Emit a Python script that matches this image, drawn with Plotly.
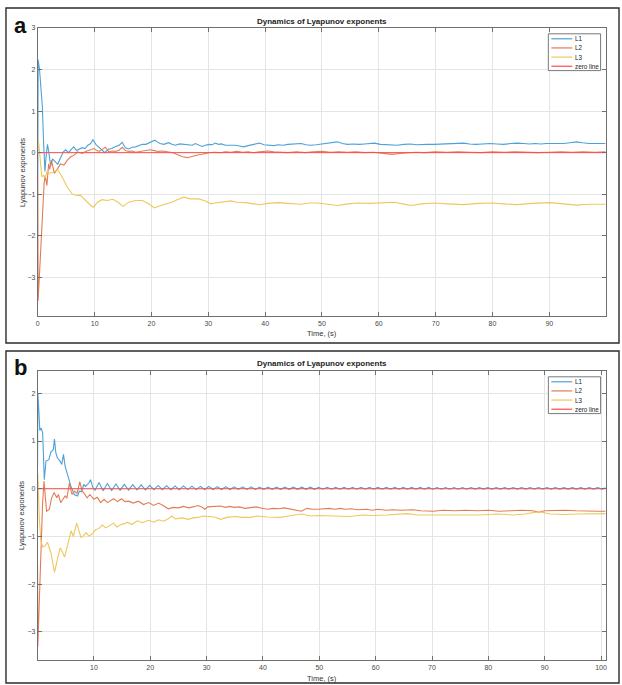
import plotly.graph_objects as go

# ---------------- data: (time [s], exponent) ----------------
# panel (a)
A_L1 = [(0, -0.5), (0.05, 2.24), (0.3, 2.0), (0.6, 1.5), (0.8, 1.1), (1.0, 0.3), (1.25, -0.45),
        (1.45, -0.1), (1.7, 0.2), (1.95, 0.0), (2.25, -0.32), (2.6, -0.15), (3.0, -0.22),
        (3.5, -0.28), (4.0, -0.12), (4.5, 0.02), (4.9, 0.07), (5.4, 0.0), (5.9, 0.08),
        (6.3, 0.14), (6.8, 0.05), (7.3, 0.08), (7.8, 0.12), (8.3, 0.1), (8.8, 0.18), (9.3, 0.22),
        (9.7, 0.31), (10.2, 0.2), (10.6, 0.15), (11.2, 0.06), (11.8, 0.0), (12.4, 0.08),
        (13.0, 0.1), (13.6, 0.14), (14.3, 0.18), (14.85, 0.25), (15.4, 0.12), (16.0, 0.09),
        (16.6, 0.13), (17.2, 0.14), (17.8, 0.17), (18.4, 0.2), (19.0, 0.2), (19.5, 0.23),
        (20.1, 0.27), (20.6, 0.3), (21.0, 0.26), (21.5, 0.22), (22.2, 0.2), (23.0, 0.24),
        (23.6, 0.2), (24.2, 0.18), (25.0, 0.21), (25.6, 0.2), (26.5, 0.2), (27.2, 0.18),
        (27.7, 0.22), (28.5, 0.17), (28.9, 0.15), (29.5, 0.18), (30.1, 0.2), (30.7, 0.19),
        (31.2, 0.23), (31.8, 0.2), (32.3, 0.21), (33.0, 0.18), (34.0, 0.19), (34.7, 0.18),
        (35.5, 0.16), (36.2, 0.14), (37.0, 0.17), (38.0, 0.2), (39.0, 0.23), (39.8, 0.19),
        (40.6, 0.18), (41.5, 0.17), (42.3, 0.19), (43.2, 0.18), (44.0, 0.2), (45.0, 0.21),
        (46.3, 0.22), (47.2, 0.19), (48.0, 0.18), (49.0, 0.19), (50.0, 0.21), (51.0, 0.23),
        (51.8, 0.24), (52.7, 0.26), (53.6, 0.22), (54.5, 0.2), (55.5, 0.21), (56.5, 0.2),
        (57.5, 0.21), (58.5, 0.22), (59.2, 0.23), (60.3, 0.2), (61.5, 0.19), (62.4, 0.2),
        (63.3, 0.18), (64.4, 0.2), (65.6, 0.21), (66.6, 0.19), (67.5, 0.2), (68.6, 0.2),
        (69.7, 0.2), (71.0, 0.21), (72.5, 0.21), (73.8, 0.22), (74.9, 0.23), (76.0, 0.21),
        (77.0, 0.2), (78.3, 0.21), (79.5, 0.22), (80.8, 0.21), (82.0, 0.2), (83.2, 0.22),
        (84.3, 0.23), (85.5, 0.22), (86.5, 0.21), (87.5, 0.22), (88.5, 0.21), (89.5, 0.22),
        (90.5, 0.22), (91.5, 0.21), (92.5, 0.22), (93.6, 0.24), (94.8, 0.26), (95.8, 0.24),
        (97.0, 0.22), (98.2, 0.22), (99.9, 0.22)]

A_L2 = [(0, -0.5), (0.05, -3.56), (0.3, -2.9), (0.6, -2.0), (0.85, -1.3), (1.1, -0.75),
        (1.3, -0.55), (1.6, -0.79), (1.9, -0.27), (2.1, -0.4), (2.4, -0.18), (2.9, -0.5),
        (3.45, -0.39), (4.0, -0.27), (4.6, -0.3), (5.2, -0.18), (5.8, -0.1), (6.4, -0.06),
        (7.0, 0.02), (7.8, -0.02), (8.4, 0.03), (9.0, 0.06), (9.9, 0.1), (10.4, 0.05),
        (10.8, 0.03), (11.3, 0.08), (11.9, 0.13), (12.5, 0.02), (13.1, 0.04), (13.7, 0.03),
        (14.3, 0.06), (14.85, 0.13), (15.4, 0.05), (16.0, 0.03), (16.6, 0.04), (17.2, 0.01),
        (17.9, 0.03), (18.6, 0.04), (19.2, 0.06), (19.8, 0.07), (20.5, 0.05), (21.2, 0.03),
        (22.0, 0.04), (23.0, 0.02), (23.8, 0.0), (24.8, -0.06), (25.5, -0.1), (26.3, -0.12),
        (27.0, -0.09), (27.6, -0.08), (28.3, -0.05), (28.9, -0.04), (29.5, -0.02), (30.1, 0.0),
        (31.0, 0.01), (32.0, 0.0), (33.0, 0.02), (34.0, 0.01), (35.0, 0.03), (36.0, 0.01),
        (37.0, 0.02), (38.0, 0.0), (39.0, 0.02), (40.5, 0.04), (41.5, 0.02), (42.5, 0.01),
        (44.0, 0.0), (45.5, 0.02), (47.0, 0.0), (48.5, 0.02), (50.0, 0.03), (51.5, 0.01),
        (53.0, 0.02), (54.5, 0.01), (56.0, 0.02), (57.5, 0.0), (59.0, 0.01), (60.5, -0.01),
        (61.5, -0.03), (62.4, -0.04), (63.5, -0.02), (65.0, 0.0), (66.5, 0.01), (68.0, 0.0),
        (70.0, 0.02), (72.0, 0.01), (74.0, 0.02), (76.0, 0.01), (78.0, 0.0), (80.0, 0.02),
        (82.0, 0.01), (84.0, 0.02), (86.0, 0.01), (88.0, 0.0), (90.0, 0.01), (92.0, 0.02),
        (94.0, 0.01), (96.0, 0.02), (98.0, 0.01), (99.9, 0.02)]

A_L3 = [(0, 0.31), (0.1, 0.3), (0.35, -0.05), (0.7, -0.58), (1.0, -0.55), (1.3, -0.59),
        (1.6, -0.46), (2.0, -0.5), (2.6, -0.47), (3.2, -0.43), (3.5, -0.41), (4.3, -0.59),
        (5.2, -0.83), (6.1, -1.0), (7.0, -1.03), (7.5, -1.02), (8.4, -1.15), (9.3, -1.27),
        (9.8, -1.31), (10.5, -1.19), (11.3, -1.13), (12.2, -1.15), (13.2, -1.12), (14.0, -1.18),
        (15.0, -1.29), (16.0, -1.19), (17.2, -1.15), (18.4, -1.15), (19.5, -1.23), (20.5, -1.33),
        (21.6, -1.27), (22.7, -1.23), (23.6, -1.19), (24.5, -1.13), (25.7, -1.07), (26.8, -1.11),
        (28.3, -1.11), (29.5, -1.16), (30.4, -1.23), (31.2, -1.21), (32.5, -1.18), (34.0, -1.16),
        (35.0, -1.19), (36.5, -1.2), (38.0, -1.23), (39.0, -1.25), (40.5, -1.22), (42.2, -1.2),
        (44.0, -1.22), (46.3, -1.24), (47.8, -1.21), (49.2, -1.21), (51.0, -1.24), (52.7, -1.27),
        (54.5, -1.23), (56.3, -1.21), (58.5, -1.22), (60.5, -1.2), (62.7, -1.19), (64.2, -1.23),
        (65.6, -1.27), (67.5, -1.23), (69.7, -1.21), (72.0, -1.23), (74.9, -1.25), (77.5, -1.22),
        (80.0, -1.21), (82.0, -1.23), (84.3, -1.25), (87.0, -1.22), (90.2, -1.2), (92.5, -1.23),
        (94.8, -1.26), (97.0, -1.24), (99.9, -1.24)]

# panel (b)
B_L1 = [(0, 0.47), (0.05, 2.0), (0.25, 1.6), (0.4, 1.22), (0.65, 1.27), (0.9, 1.17), (1.05, 0.7),
        (1.2, 0.19), (1.5, 0.58), (2.0, 0.61), (2.4, 0.78), (2.8, 0.82), (3.0, 1.04), (3.25, 0.75),
        (3.5, 0.65), (4.0, 0.58), (4.3, 0.51), (4.6, 0.72), (4.9, 0.47), (5.3, 0.3), (5.9, 0.06),
        (6.5, -0.12), (7.1, -0.15), (7.4, -0.05), (7.8, -0.06), (8.2, 0.09), (8.5, 0.05),
        (9.1, 0.12), (9.4, 0.19), (9.8, 0.03), (10.2, -0.03),
        (10.9, 0.13), (11.65, -0.04), (12.4, 0.11), (13.15, -0.035), (13.9, 0.1), (14.65, -0.03),
        (15.4, 0.09), (16.15, -0.03), (16.9, 0.085), (17.65, -0.025), (18.4, 0.08), (19.15, -0.025),
        (19.9, 0.07), (20.65, -0.02), (21.4, 0.07), (22.15, -0.02), (22.9, 0.065), (23.65, -0.02),
        (24.4, 0.06), (25.15, -0.02), (25.9, 0.06), (26.65, -0.018), (27.4, 0.055), (28.15, -0.018),
        (28.9, 0.05), (29.65, -0.016), (30.4, 0.05), (31.15, -0.016), (31.9, 0.045), (32.65, -0.015),
        (33.4, 0.045), (34.15, -0.015), (34.9, 0.04), (35.65, -0.014), (36.4, 0.04), (37.15, -0.014),
        (37.9, 0.04), (38.65, -0.013), (39.4, 0.035), (40.15, -0.013), (40.9, 0.035), (41.65, -0.012),
        (42.4, 0.035), (43.15, -0.012), (43.9, 0.034), (44.65, -0.012), (45.4, 0.033), (46.15, -0.011),
        (46.9, 0.033), (47.65, -0.011), (48.4, 0.032), (49.15, -0.011), (49.9, 0.032), (50.65, -0.01),
        (51.4, 0.031), (52.15, -0.01), (52.9, 0.031), (53.65, -0.01), (54.4, 0.03), (55.15, -0.01),
        (55.9, 0.03), (56.65, -0.01), (57.4, 0.03), (58.15, -0.01), (58.9, 0.03), (59.65, -0.009),
        (60.4, 0.029), (61.15, -0.009), (61.9, 0.029), (62.65, -0.009), (63.4, 0.029), (64.15, -0.009),
        (64.9, 0.028), (65.65, -0.009), (66.4, 0.028), (67.15, -0.008), (67.9, 0.028), (68.65, -0.008),
        (69.4, 0.028), (70.15, -0.008), (70.9, 0.027), (71.65, -0.008), (72.4, 0.027), (73.15, -0.008),
        (73.9, 0.027), (74.65, -0.008), (75.4, 0.027), (76.15, -0.008), (76.9, 0.026), (77.65, -0.007),
        (78.4, 0.026), (79.15, -0.007), (79.9, 0.026), (80.65, -0.007), (81.4, 0.026), (82.15, -0.007),
        (82.9, 0.026), (83.65, -0.007), (84.4, 0.025), (85.15, -0.007), (85.9, 0.025), (86.65, -0.007),
        (87.4, 0.025), (88.15, -0.007), (88.9, 0.025), (89.65, -0.007), (90.4, 0.025), (91.15, -0.006),
        (91.9, 0.025), (92.65, -0.006), (93.4, 0.024), (94.15, -0.006), (94.9, 0.024), (95.65, -0.006),
        (96.4, 0.024), (97.15, -0.006), (97.9, 0.024), (98.65, -0.006), (99.4, 0.024), (100.15, -0.006),
        (100.8, 0.02)]

B_L2 = [(0, -1.58), (0.05, -3.31), (0.3, -2.4), (0.6, -1.2), (0.9, -0.3), (1.15, 0.16),
        (1.35, -0.2), (1.6, -0.47), (2.1, -0.43), (2.5, -0.19), (2.95, -0.08), (3.4, -0.19),
        (3.7, -0.12), (4.1, -0.29), (4.5, -0.22), (4.9, -0.15), (5.2, -0.2), (5.65, 0.12),
        (6.1, -0.12), (6.6, -0.05), (7.0, -0.1), (7.5, 0.15), (7.9, -0.05), (8.3, -0.1),
        (8.8, -0.19), (9.3, -0.12), (10.0, -0.22), (10.6, -0.18), (11.2, -0.29), (11.8, -0.22),
        (12.4, -0.29), (13.0, -0.25), (13.5, -0.21), (14.2, -0.27), (14.9, -0.21), (15.5, -0.27),
        (16.2, -0.26), (17.0, -0.3), (17.9, -0.26), (18.8, -0.33), (19.7, -0.29), (20.6, -0.35),
        (21.5, -0.3), (22.4, -0.36), (23.2, -0.42), (24.1, -0.39), (25.0, -0.4), (25.9, -0.37),
        (26.8, -0.4), (27.6, -0.38), (28.5, -0.35), (29.1, -0.38), (29.7, -0.43), (30.2, -0.38),
        (31.0, -0.37), (31.8, -0.36), (32.5, -0.36), (33.3, -0.39), (34.1, -0.37), (34.9, -0.39),
        (35.8, -0.38), (36.8, -0.41), (37.8, -0.4), (38.8, -0.38), (39.8, -0.41), (40.8, -0.43),
        (41.8, -0.41), (42.8, -0.42), (43.8, -0.4), (44.8, -0.42), (45.8, -0.44), (46.8, -0.47),
        (47.8, -0.41), (48.8, -0.43), (49.8, -0.43), (50.8, -0.42), (51.8, -0.41), (52.8, -0.43),
        (53.7, -0.41), (54.7, -0.43), (55.7, -0.42), (56.7, -0.44), (57.6, -0.43), (58.4, -0.43),
        (59.4, -0.45), (60.4, -0.43), (61.9, -0.45), (63.0, -0.44), (64.5, -0.45), (66.6, -0.44),
        (68.0, -0.46), (70.2, -0.47), (72.0, -0.45), (74.0, -0.46), (76.0, -0.45), (78.0, -0.46),
        (80.0, -0.45), (81.9, -0.47), (84.0, -0.46), (86.0, -0.45), (87.8, -0.46), (89.0, -0.49),
        (90.0, -0.46), (91.5, -0.45), (93.7, -0.45), (95.5, -0.46), (97.5, -0.47), (99.6, -0.47),
        (100.8, -0.47)]

B_L3 = [(0, 0.33), (0.05, 0.3), (0.3, -0.6), (0.6, -1.1), (0.9, -1.22), (1.3, -1.2), (1.75, -1.12),
        (2.4, -1.35), (3.0, -1.75), (3.4, -1.55), (4.0, -1.24), (4.3, -1.3), (4.8, -1.43),
        (5.4, -1.15), (5.95, -0.88), (6.35, -1.0), (6.95, -0.72), (7.7, -1.02), (8.2, -0.98),
        (8.6, -0.92), (9.1, -0.99), (9.6, -0.96), (10.3, -0.86), (10.9, -0.83), (11.5, -0.76),
        (12.1, -0.82), (12.7, -0.77), (13.5, -0.72), (14.1, -0.8), (14.8, -0.75), (15.5, -0.73),
        (15.9, -0.7), (16.7, -0.75), (17.7, -0.67), (18.6, -0.71), (19.7, -0.66), (20.6, -0.7),
        (21.5, -0.65), (22.4, -0.68), (23.2, -0.63), (23.8, -0.57), (24.5, -0.63), (25.6, -0.61),
        (26.8, -0.64), (27.6, -0.61), (28.5, -0.6), (29.4, -0.57), (30.4, -0.58), (31.4, -0.59),
        (32.5, -0.64), (33.6, -0.6), (35.0, -0.58), (36.2, -0.6), (37.8, -0.6), (39.0, -0.57),
        (40.7, -0.59), (42.0, -0.6), (43.1, -0.6), (44.5, -0.57), (46.8, -0.53), (48.5, -0.57),
        (50.0, -0.56), (52.5, -0.57), (55.4, -0.58), (57.6, -0.55), (59.5, -0.56), (62.0, -0.55),
        (65.5, -0.52), (67.5, -0.55), (70.0, -0.55), (73.0, -0.55), (76.0, -0.54), (78.5, -0.55),
        (81.5, -0.53), (84.5, -0.55), (86.5, -0.53), (89.0, -0.48), (91.0, -0.53), (93.5, -0.54),
        (96.0, -0.53), (99.6, -0.52), (100.8, -0.52)]

ZERO_LEVEL = 0.0

A_XTICKS = [0, 10, 20, 30, 40, 50, 60, 70, 80, 90]
A_YTICKS = [-3, -2, -1, 0, 1, 2, 3]
B_XTICKS = [10, 20, 30, 40, 50, 60, 70, 80, 90, 100]
B_YTICKS = [-3, -2, -1, 0, 1, 2]

SERIES_NAMES = ["L1", "L2", "L3", "zero line"]
TITLE = "Dynamics of Lyapunov exponents"
X_TITLE = "Time, (s)"
Y_TITLE = "Lyapunov exponents"

# ---------------- styling ----------------
W, H = 622, 685
FONT = "Liberation Sans, Arial, sans-serif"
COLORS = {"L1": "#4ea1d6", "L2": "#e27c55", "L3": "#f0c75c", "zero line": "#ff4a4a"}
AXIS_COLOR = "#707070"
GRID_COLOR = "#e4e4e4"
TEXT_COLOR = "#4a4a4a"


def fx(p):
    return p / W


def fy(p):
    return 1 - p / H


fig = go.Figure()


def add_panel(curves, xa, ya):
    for name, pts in zip(SERIES_NAMES[:3], curves):
        fig.add_trace(go.Scatter(
            x=[p[0] for p in pts], y=[p[1] for p in pts], mode="lines", name=name,
            line=dict(color=COLORS[name], width=1.1), xaxis=xa, yaxis=ya, showlegend=False))
    t0, t1 = curves[0][0][0], curves[0][-1][0]
    fig.add_trace(go.Scatter(
        x=[t0, t1], y=[ZERO_LEVEL, ZERO_LEVEL], mode="lines", name=SERIES_NAMES[3],
        line=dict(color=COLORS["zero line"], width=1), xaxis=xa, yaxis=ya, showlegend=False))


add_panel([A_L1, A_L2, A_L3], "x", "y")
add_panel([B_L1, B_L2, B_L3], "x2", "y2")

axis_common = dict(
    showline=True, linecolor=AXIS_COLOR, linewidth=1, mirror="ticks",
    ticks="inside", ticklen=4, tickwidth=1, tickcolor=AXIS_COLOR,
    showgrid=True, gridcolor=GRID_COLOR, gridwidth=1, zeroline=False,
    tickfont=dict(family=FONT, size=7, color=TEXT_COLOR),
)

x_dom = [fx(36), fx(606.5)]
fig.update_layout(
    width=W, height=H, margin=dict(l=0, r=0, t=0, b=0),
    paper_bgcolor="white", plot_bgcolor="white",
    xaxis=dict(domain=x_dom, range=[0, 99.9], tickvals=A_XTICKS, anchor="y", **axis_common),
    yaxis=dict(domain=[fy(314), fy(24)], range=[-3.93, 3], tickvals=A_YTICKS, anchor="x", **axis_common),
    xaxis2=dict(domain=x_dom, range=[0.05, 100.8], tickvals=B_XTICKS, anchor="y2", **axis_common),
    yaxis2=dict(domain=[fy(660), fy(369)], range=[-3.59, 2.47], tickvals=B_YTICKS, anchor="x2", **axis_common),
)

shapes = []
annotations = []

# outer frames of the two panels
for top, bottom in [(4, 341), (349, 683)]:
    shapes.append(dict(type="rect", xref="paper", yref="paper", x0=fx(4), x1=fx(620),
                       y0=fy(bottom), y1=fy(top), line=dict(color="#2b2b2b", width=1.4)))

# panel letters, titles and axis titles
for letter, ly, title_y, xt_y, yt_y in [("a", 22, 18, 331, 169), ("b", 366, 362, 678, 514)]:
    annotations.append(dict(text="<b>%s</b>" % letter, x=fx(18.5), y=fy(ly), xref="paper", yref="paper",
                            showarrow=False, xanchor="center", yanchor="middle",
                            font=dict(family=FONT, size=22, color="#111111")))
    annotations.append(dict(text="<b>%s</b>" % TITLE, x=fx(321.5), y=fy(title_y), xref="paper",
                            yref="paper", showarrow=False, xanchor="center", yanchor="middle",
                            font=dict(family=FONT, size=8, color="#222222")))
    annotations.append(dict(text=X_TITLE, x=fx(321.5), y=fy(xt_y), xref="paper", yref="paper",
                            showarrow=False, xanchor="center", yanchor="middle",
                            font=dict(family=FONT, size=7.5, color="#333333")))
    annotations.append(dict(text=Y_TITLE, x=fx(20), y=fy(yt_y), xref="paper", yref="paper",
                            showarrow=False, xanchor="center", yanchor="middle", textangle=-90,
                            font=dict(family=FONT, size=7.5, color="#333333")))

# legends (boxed, upper right of each axes)
for box_top, box_bottom, rows in [(30, 67, [35, 44.2, 53.4, 62.6]),
                                  (375, 412, [380, 389.2, 398.4, 407.6])]:
    shapes.append(dict(type="rect", xref="paper", yref="paper", x0=fx(549), x1=fx(601.5),
                       y0=fy(box_bottom), y1=fy(box_top), fillcolor="white",
                       line=dict(color="#7a7a7a", width=1)))
    for name, ry in zip(SERIES_NAMES, rows):
        shapes.append(dict(type="line", xref="paper", yref="paper", x0=fx(552), x1=fx(573),
                           y0=fy(ry), y1=fy(ry), line=dict(color=COLORS[name], width=1.2)))
        annotations.append(dict(text=name, x=fx(573.5), y=fy(ry), xref="paper", yref="paper",
                                showarrow=False, xanchor="left", yanchor="middle",
                                font=dict(family=FONT, size=6.3, color="#222222")))

fig.update_layout(shapes=shapes, annotations=annotations)

fig.write_html("out.html")
